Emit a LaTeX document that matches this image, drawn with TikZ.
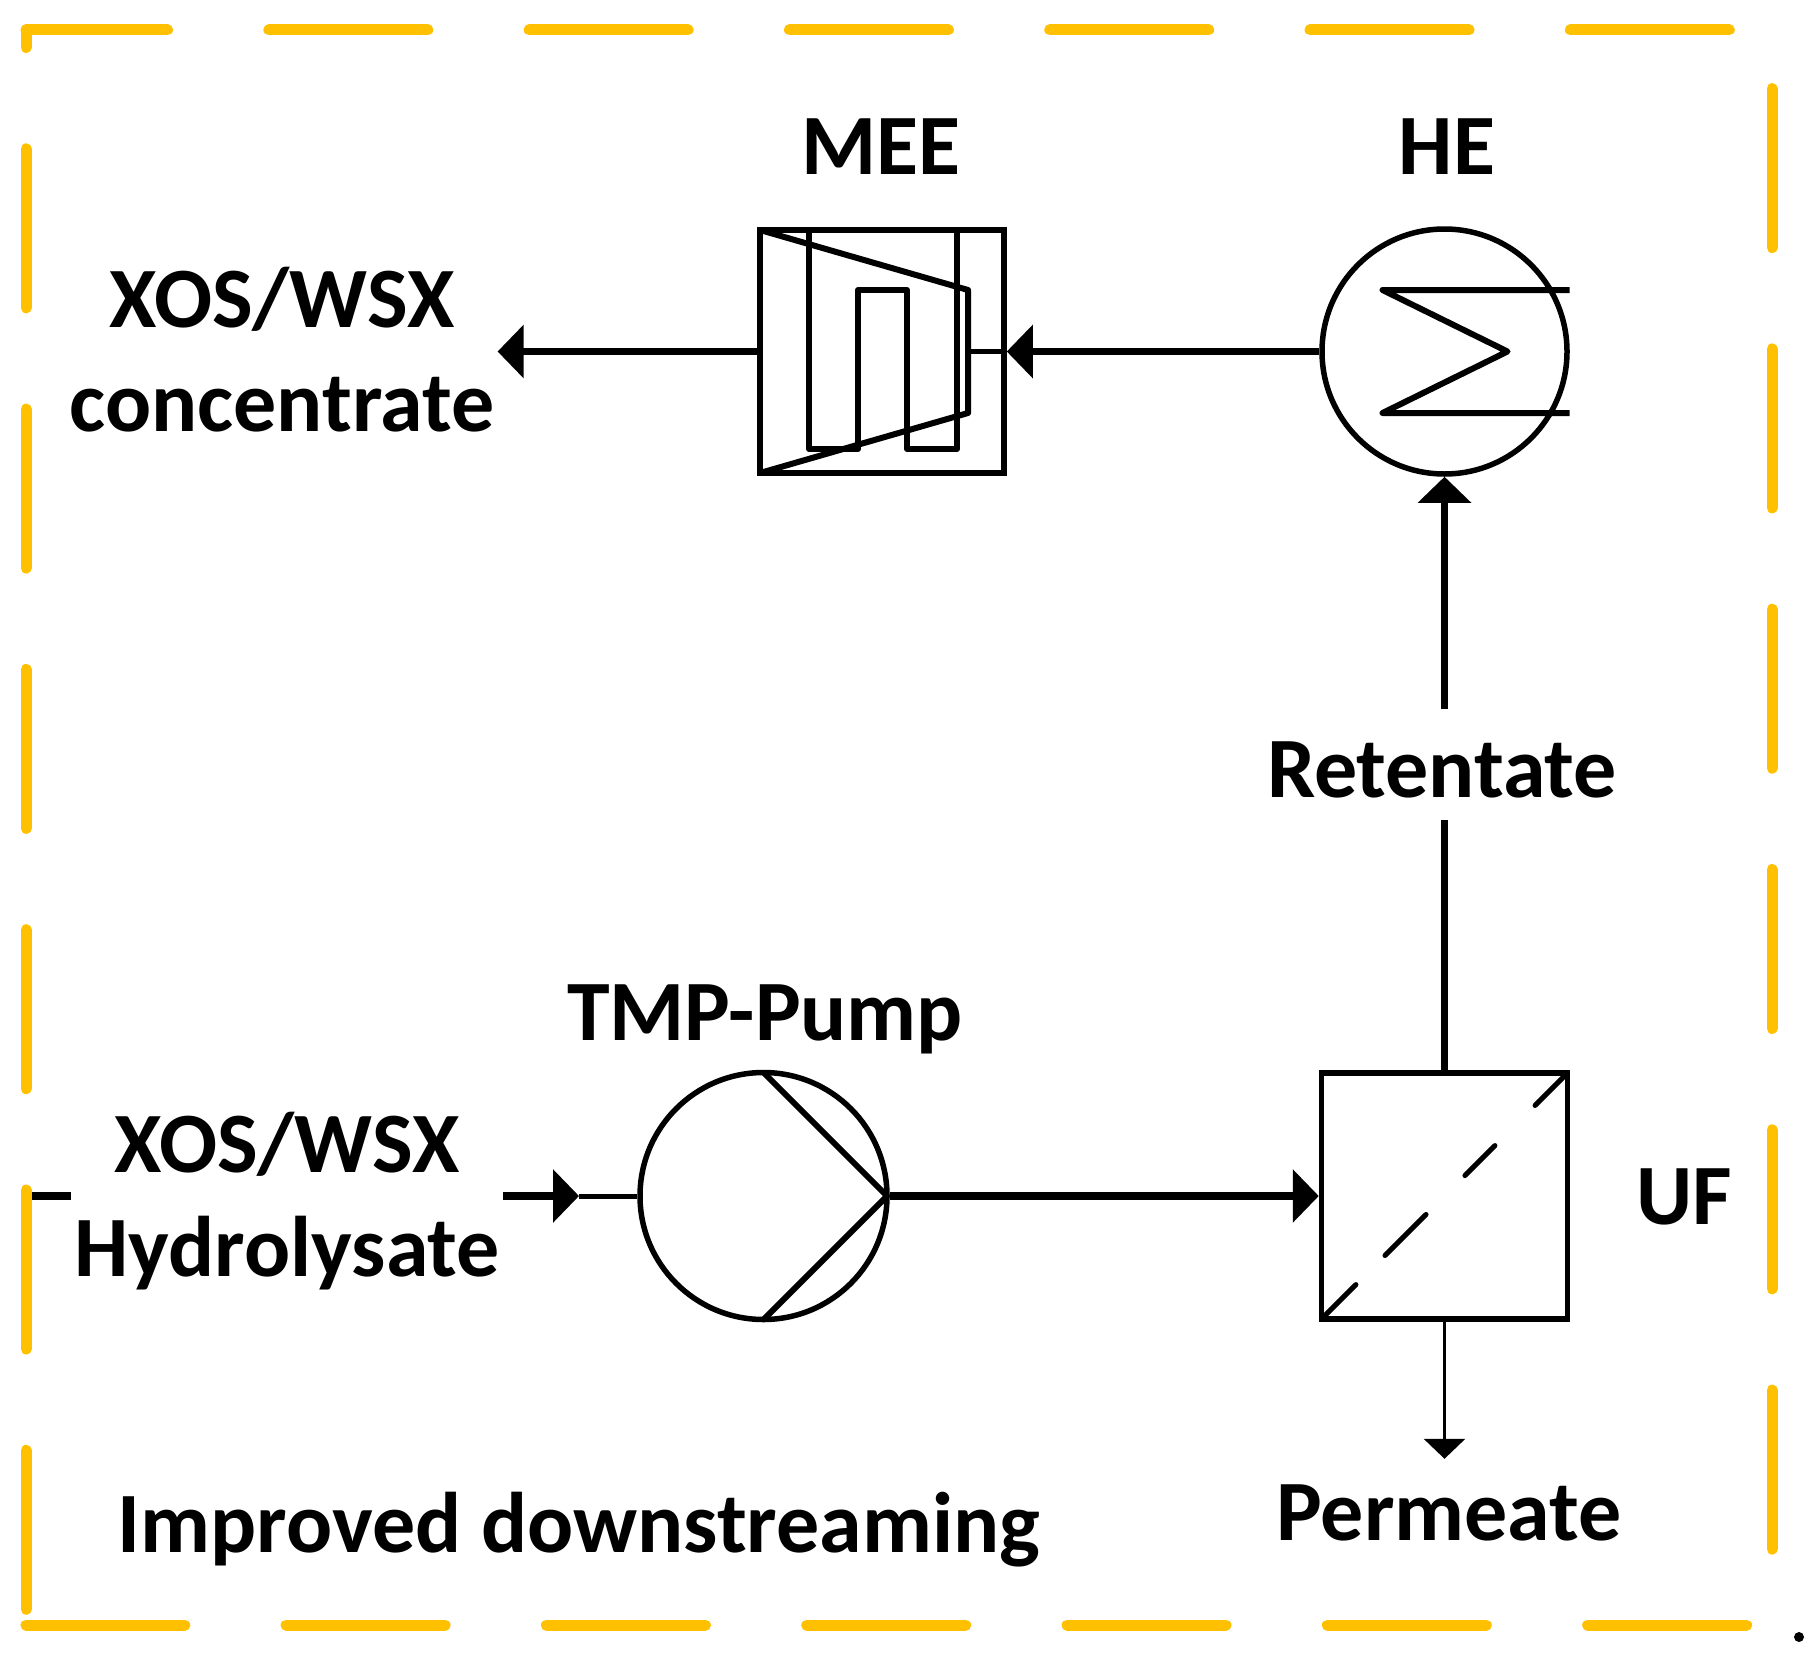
\documentclass[tikz,border=0pt]{standalone}
\usepackage{fontspec}
\setmainfont{Carlito}
\usetikzlibrary{arrows.meta,calc}
\definecolor{gold}{HTML}{FFC000}
\begin{document}
\begin{tikzpicture}[x=1pt,y=-1pt,
  lbl/.style={font=\fontsize{86pt}{104pt}\selectfont\bfseries, align=center, inner xsep=3pt, inner ysep=0pt},
  unitbox/.style={draw, line width=5.5pt, inner sep=0pt},
  inner/.style={line width=6pt, line join=round},
  stream/.style={line width=7.5pt, -{Triangle[length=26pt,width=52pt]}},
  plain/.style={line width=7.5pt},
  port/.style={line width=5pt},
  border/.style={draw=gold, line width=11pt, line cap=round, dash pattern=on 159pt off 101.3pt}
]
\useasboundingbox (0,0) rectangle (1817,1659);

% units
\node[unitbox, minimum width=244pt, minimum height=243pt] (mee) at (882,351.5) {};
\node[unitbox, circle, minimum size=245pt] (he) at (1444.5,351.5) {};
\node[unitbox, circle, minimum size=247pt] (pump) at (763.5,1196) {};
\node[unitbox, minimum width=246pt, minimum height=246pt] (uf) at (1444.5,1196) {};

% MEE internals
\draw[inner] ([shift={(-122,-121.5)}]mee.center) -- ([shift={(86,-61.5)}]mee.center)
  -- ([shift={(86,61.5)}]mee.center) -- ([shift={(-122,121.5)}]mee.center);
\draw[inner] ([shift={(-73,-121.5)}]mee.center) -- ([shift={(-73,97.5)}]mee.center)
  -- ([shift={(-24,97.5)}]mee.center) -- ([shift={(-24,-61.5)}]mee.center)
  -- ([shift={(25,-61.5)}]mee.center) -- ([shift={(25,97.5)}]mee.center)
  -- ([shift={(75,97.5)}]mee.center) -- ([shift={(75,-121.5)}]mee.center);
\draw[port] ([shift={(86,0)}]mee.center) -- (mee.east);

% HE internals
\draw[inner] ([shift={(125,-61.5)}]he.center) -- ([shift={(-62,-61.5)}]he.center)
  -- ([shift={(63,0)}]he.center) -- ([shift={(-62,61.5)}]he.center) -- ([shift={(125,61.5)}]he.center);

% Pump internals
\draw[inner] ([shift={(0,-123.5)}]pump.center) -- ([shift={(123.5,0)}]pump.center) -- ([shift={(0,123.5)}]pump.center);

% UF membrane (dashed diagonal)
\foreach \a/\b in {0.0/0.14, 0.258/0.425, 0.583/0.705, 0.868/1.0}{
  \draw[line width=5pt, line cap=round]
    ([shift={(-123+246*\a,123-246*\a)}]uf.center) -- ([shift={(-123+246*\b,123-246*\b)}]uf.center);
}

% labels
\node[lbl, anchor=base] (meel) at (881,174) {MEE};
\node[lbl, anchor=base] (hel) at (1447,174) {HE};
\node[lbl, anchor=base] (conc) at (282,431) {XOS/WSX\\concentrate};
\node[lbl, anchor=base] (pumpl) at (765,1040) {TMP-Pump};
\node[lbl, anchor=base] (feed) at (287,1276) {XOS/WSX\\Hydrolysate};
\node[lbl, anchor=base, text height=88pt, text depth=23pt] (ret) at (1442,797) {Retentate};
\node[lbl, anchor=base] (ufl) at (1684,1224) {UF};
\node[lbl, anchor=base, text height=81pt, text depth=20pt] (perm) at (1449,1540) {Permeate};
\node[lbl, anchor=base] (title) at (579,1552) {Improved downstreaming};

% streams
\coordinate (fin) at (26,1196);
\coordinate (pin) at (579,1196);
\draw[plain] (fin) -- (fin -| feed.west);
\draw[stream] (fin -| feed.east) -- (pin);
\draw[port] (pin) -- (pump.west);
\draw[stream] (pump.east) -- (uf.west);
\draw[plain] (uf.north) -- (uf.north |- ret.south);
\draw[stream] (uf.north |- ret.north) -- (he.south);
\draw[stream] (he.west) -- (mee.east);
\draw[stream] (mee.west) -- (mee.west -| conc.east);
\draw[line width=3.3pt, -{Triangle[length=20pt,width=41pt]}] (uf.south) -- (uf.south |- perm.north);

% dashed frame
\coordinate (tl) at (26,30);
\coordinate (tr) at (1772,30);
\coordinate (br) at (1772,1625);
\coordinate (bl) at (26,1625);
\draw[border, dash phase=17.5pt] (tl) -- (tr);
\draw[border, dash phase=201.7pt] (tr) -- (br);
\draw[border, dash phase=234.9pt] (br) -- (bl);
\draw[border, dash phase=141.5pt] (tl) -- (bl);

% stray dot
\node[circle, fill, inner sep=0pt, minimum size=10pt] (dot) at (1799,1637) {};
\end{tikzpicture}
\end{document}
